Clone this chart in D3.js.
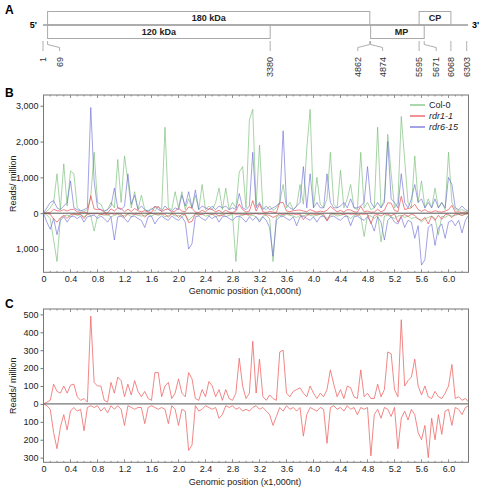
<!DOCTYPE html>
<html><head><meta charset="utf-8">
<script src="https://cdn.jsdelivr.net/npm/d3@7"></script>
<style>body{margin:0;background:#fff}svg{display:block;font-family:"Liberation Sans",Arial,sans-serif}</style>
</head><body>
<svg id="c" width="481" height="487"></svg>
<script>
// ---------- DATA ----------
const seriesNames = ["Col-0", "rdr1-1", "rdr6-15"];
const stepNt = 50; // sampling grid of the profiles (nt)
const colSense = [
0,50,150,300,1100,100,1380,200,1180,1100,
150,80,50,100,450,1700,300,250,50,100,
300,150,1500,300,1600,900,150,600,100,500,
100,50,150,50,200,100,2400,150,100,600,
150,600,100,400,150,500,100,800,100,200,
100,300,700,100,700,100,300,150,1150,1300,
150,2600,2900,200,1900,150,100,200,80,150,
300,800,150,300,100,200,800,250,1800,2900,
150,1000,250,150,400,1700,250,150,1200,150,
400,800,150,100,1700,150,300,100,150,2400,
150,400,2200,1100,150,300,2700,1500,300,150,
1600,300,900,150,400,150,700,150,300,100,
1700,300,100,80,100,50,30];
const colAnti = [
0,-50,-150,-750,-1350,-150,-80,-50,-100,-30,
-60,-40,-100,-30,-60,-500,-80,-30,-60,-40,
-100,-60,-30,-80,-60,-30,-100,-30,-60,-80,
-60,-30,-80,-30,-60,-30,-100,-60,-30,-80,
-60,-100,-30,-200,-100,-30,-60,-30,-80,-60,
-30,-100,-60,-30,-100,-60,-30,-1350,-80,-60,
-30,-80,-60,-100,-200,-80,-60,-150,-1350,-100,
-60,-80,-30,-60,-80,-120,-60,-80,-30,-60,
-80,-60,-30,-80,-150,-60,-30,-80,-60,-30,
-80,-150,-60,-30,-80,-650,-60,-80,-150,-60,
-800,-80,-60,-100,-150,-80,-60,-120,-80,-150,
-120,-150,-250,-150,-120,-80,-150,-600,-80,-120,
-60,-80,-60,-30,-60,-30,-20];
const rdr6Sense = [
0,150,300,350,150,100,200,300,900,150,
100,60,100,150,2950,900,150,100,60,100,
200,700,150,100,200,1100,250,500,100,200,
100,60,100,200,100,60,200,100,60,150,
100,500,200,600,150,650,100,200,150,100,
200,100,200,150,200,100,150,100,550,150,
100,200,1700,150,300,100,200,100,150,200,
300,2300,250,150,100,200,300,1300,150,1100,
150,300,150,150,1100,300,150,150,200,300,
150,400,150,150,200,300,1300,300,150,300,
150,300,2000,400,300,150,1100,300,150,400,
800,300,400,150,300,150,400,150,300,150,
1000,800,150,100,200,100,50];
const rdr6Anti = [
0,-250,-450,-150,-600,-200,-100,-250,-100,-80,
-150,-80,-250,-100,-80,-50,-150,-80,-150,-250,
-100,-750,-100,-80,-150,-250,-100,-80,-150,-200,
-400,-100,-80,-300,-150,-80,-150,-200,-80,-150,
-200,-100,-250,-1000,-850,-100,-80,-150,-200,-80,
-150,-80,-250,-100,-80,-150,-200,-100,-80,-150,
-250,-100,-200,-100,-250,-100,-200,-400,-1200,-200,
-100,-80,-150,-200,-100,-350,-100,-80,-150,-200,
-100,-250,-100,-80,-200,-100,-80,-150,-200,-100,
-80,-350,-100,-80,-150,-200,-100,-250,-500,-100,
-250,-750,-200,-100,-250,-300,-100,-400,-200,-250,
-700,-350,-1450,-1300,-400,-300,-900,-400,-300,-700,
-250,-200,-350,-200,-550,-200,-50];
const rdr1Sense = [
0,10,20,110,70,60,100,60,105,110,
40,20,30,10,490,120,100,100,20,10,
120,60,150,130,40,110,50,130,70,40,
70,30,20,175,175,40,100,120,30,60,
140,60,40,175,140,30,20,80,40,125,
100,40,80,20,80,30,20,60,255,100,
30,60,350,60,250,40,20,50,30,20,
290,300,60,40,70,80,90,60,40,100,
60,30,60,40,80,190,110,40,80,30,
100,90,40,30,190,40,60,30,30,110,
40,80,290,280,80,40,470,100,130,150,
250,100,50,100,40,30,70,40,30,60,
100,220,30,40,20,30,10];
const rdr1Anti = [
0,-10,-30,-160,-250,-130,-60,-145,-40,-20,
-40,-30,-150,-20,-10,-20,-10,-40,-20,-50,
-10,-30,-10,-30,-120,-10,-20,-30,-20,-20,
-110,-20,-10,-20,-30,-20,-30,-110,-10,-30,
-120,-30,-40,-260,-230,-10,-40,-30,-10,-20,
-30,-20,-80,-60,-10,-20,-10,-30,-20,-40,
-30,-40,-20,-10,-30,-20,-40,-60,-120,-70,
-20,-40,-10,-30,-20,-40,-20,-180,-60,-20,
-30,-40,-20,-30,-220,-20,-10,-30,-20,-40,
-10,-30,-20,-60,-20,-30,-20,-290,-60,-30,
-80,-20,-30,-70,-20,-250,-80,-40,-90,-30,
-60,-160,-200,-120,-300,-80,-200,-60,-170,-40,
-30,-120,-20,-30,-60,-20,-10];
const bTicks = [3000, 2000, 1000, 0, -1000];
const cTicks = [500, 400, 300, 200, 100, 0, -100, -200, -300];
const xTicks = [0,0.4,0.8,1.2,1.6,2.0,2.4,2.8,3.2,3.6,4.0,4.4,4.8,5.2,5.6,6.0];
// genome map (nt)
const genes = [
  {name:"180 kDa", start:69, end:4862, strand:"top"},
  {name:"120 kDa", start:69, end:3380, strand:"bottom"},
  {name:"MP", start:4874, end:5671, strand:"bottom"},
  {name:"CP", start:5595, end:6068, strand:"top"}
];
const mapLabels = [1, 69, 3380, 4862, 4874, 5595, 5671, 6068, 6303];
const genomeLength = 6303;

// ---------- DRAW ----------
const svg = d3.select("#c");
const FONT = '"Liberation Sans",Arial,sans-serif';
const colors = {"Col-0":"#74bb74", "rdr1-1":"#e8474a", "rdr6-15":"#6464d4"};

// Panel letters
[["A",5,14],["B",5,97],["C",5,308]].forEach(([t,x,y]) =>
  svg.append("text").attr("x",x).attr("y",y).attr("font-size",12).attr("font-weight","bold").text(t));

// ---- Panel A: genome map
const mx = d3.scaleLinear().domain([1, genomeLength]).range([43, 466.7]);
const lineY = 25, boxH = 13.5;
svg.append("line").attr("x1",43).attr("x2",468).attr("y1",lineY).attr("y2",lineY)
  .attr("stroke","#666").attr("stroke-width",1);
svg.append("text").attr("x",37).attr("y",lineY+3).attr("text-anchor","end")
  .attr("font-size",9).attr("font-weight","bold").text("5'");
svg.append("text").attr("x",472).attr("y",lineY+3)
  .attr("font-size",9).attr("font-weight","bold").text("3'");
genes.forEach(g => {
  const y0 = g.strand === "top" ? lineY - boxH : lineY;
  svg.append("rect").attr("x", mx(g.start)).attr("y", y0)
    .attr("width", mx(g.end) - mx(g.start)).attr("height", boxH)
    .attr("fill","none").attr("stroke","#aaa").attr("stroke-width",1);
  svg.append("text").attr("x",(mx(g.start)+mx(g.end))/2 + (g.name==="MP"?4:0))
    .attr("y", y0 + boxH/2 + 3.2).attr("text-anchor","middle")
    .attr("font-size",9).attr("font-weight","bold").attr("fill","#222").text(g.name);
});
const labelShift = {1:0, 69:12, 3380:0, 4862:-12, 4874:12, 5595:0, 5671:12, 6068:0, 6303:0};
mapLabels.forEach(p => {
  const x0 = mx(p), x1 = x0 + labelShift[p];
  svg.append("path").attr("d", `M${x0},41V44.5L${x1},47.5V51`)
    .attr("fill","none").attr("stroke","#999").attr("stroke-width",0.8);
  svg.append("text").attr("transform",`translate(${x1+3.2},57) rotate(-90)`)
    .attr("text-anchor","end").attr("font-size",9).attr("fill","#333").text(p);
});

// ---- Profile panels
const x = d3.scaleLinear().domain([0, 6.296]).range([43.5, 468.5]);
const pos = rdr1Sense.map((_, i) => i * stepNt / 1000);

function panel(top, bottom, domain, ticks, layers, xlabY) {
  const y = d3.scaleLinear().domain(domain).range([bottom, top]);
  const g = svg.append("g");
  const line = d3.line().x((d,i) => x(pos[i])).y(d => y(d));
  layers.forEach(L => {
    g.append("path").datum(L.values).attr("d", line)
      .attr("fill","none").attr("stroke", L.color).attr("stroke-width", L.w || 0.8)
      .attr("stroke-opacity", L.op || 0.85).attr("stroke-linejoin","round");
  });
  // zero line
  g.append("line").attr("x1",x.range()[0]).attr("x2",x.range()[1])
    .attr("y1",y(0)).attr("y2",y(0)).attr("stroke","#555").attr("stroke-width",1);
  // frame
  g.append("rect").attr("x",x.range()[0]).attr("y",top)
    .attr("width",x.range()[1]-x.range()[0]).attr("height",bottom-top)
    .attr("fill","none").attr("stroke","#777").attr("stroke-width",1);
  // y axis
  const ya = g.append("g").attr("transform",`translate(${x.range()[0]},0)`)
    .call(d3.axisLeft(y).tickValues(ticks).tickSize(3).tickPadding(2)
      .tickFormat(d => d3.format(",")(Math.abs(d))));
  ya.select(".domain").remove();
  ya.selectAll("line").attr("stroke","#777");
  ya.selectAll("text").attr("font-size",9).attr("font-family",FONT).attr("fill","#222");
  // x axis (inward ticks)
  const xa = g.append("g").attr("transform",`translate(0,${bottom})`)
    .call(d3.axisBottom(x).tickValues(xTicks).tickSize(0).tickPadding(3)
      .tickFormat(d => d === 0 ? "0" : d3.format(".1f")(d)));
  xa.select(".domain").remove();
  xa.selectAll("text").attr("font-size",9).attr("font-family",FONT).attr("fill","#222");
  const minor = d3.range(0, 63).map(i => i * 0.1).filter(v => v <= 6.29);
  minor.forEach(v => {
    const major = Math.abs(v*10 % 4) < 1e-6 || Math.abs(v*10 % 4 - 4) < 1e-6;
    const len = major ? 3 : 1.5;
    g.append("line").attr("x1",x(v)).attr("x2",x(v)).attr("y1",bottom).attr("y2",bottom-len)
      .attr("stroke","#777").attr("stroke-width",0.8);
    g.append("line").attr("x1",x(v)).attr("x2",x(v)).attr("y1",top).attr("y2",top+len)
      .attr("stroke","#777").attr("stroke-width",0.8);
  });
  // labels
  g.append("text").attr("x",245).attr("y",xlabY).attr("text-anchor","middle")
    .attr("font-size",9).attr("fill","#222").text("Genomic position (x1,000nt)");
  g.append("text").attr("transform",`translate(16,${(top+bottom)/2}) rotate(-90)`)
    .attr("text-anchor","middle").attr("font-size",9).attr("fill","#222").text("Reads/ million");
  return y;
}

panel(95, 272.3, [-1650, 3300], bTicks, [
  {values: colSense, color: colors["Col-0"], op:0.8},
  {values: colAnti, color: colors["Col-0"], op:0.8},
  {values: rdr6Sense, color: colors["rdr6-15"], op:0.75},
  {values: rdr6Anti, color: colors["rdr6-15"], op:0.75},
  {values: rdr1Sense, color: colors["rdr1-1"], op:0.85},
  {values: rdr1Anti, color: colors["rdr1-1"], op:0.85}
], 294);

panel(309, 462.3, [-326, 530], cTicks, [
  {values: rdr1Sense, color: "#ee6a6a", op:0.9, w:0.9},
  {values: rdr1Anti, color: "#ee6a6a", op:0.9, w:0.9}
], 485);

// legend
seriesNames.forEach((s, i) => {
  const ly = 105 + i * 11;
  svg.append("line").attr("x1",410).attr("x2",425).attr("y1",ly).attr("y2",ly)
    .attr("stroke",colors[s]).attr("stroke-width",1.2);
  svg.append("text").attr("x",429).attr("y",ly+3).attr("font-size",9)
    .attr("font-style", i === 0 ? "normal" : "italic").attr("fill","#222").text(s);
});
</script>
</body></html>
